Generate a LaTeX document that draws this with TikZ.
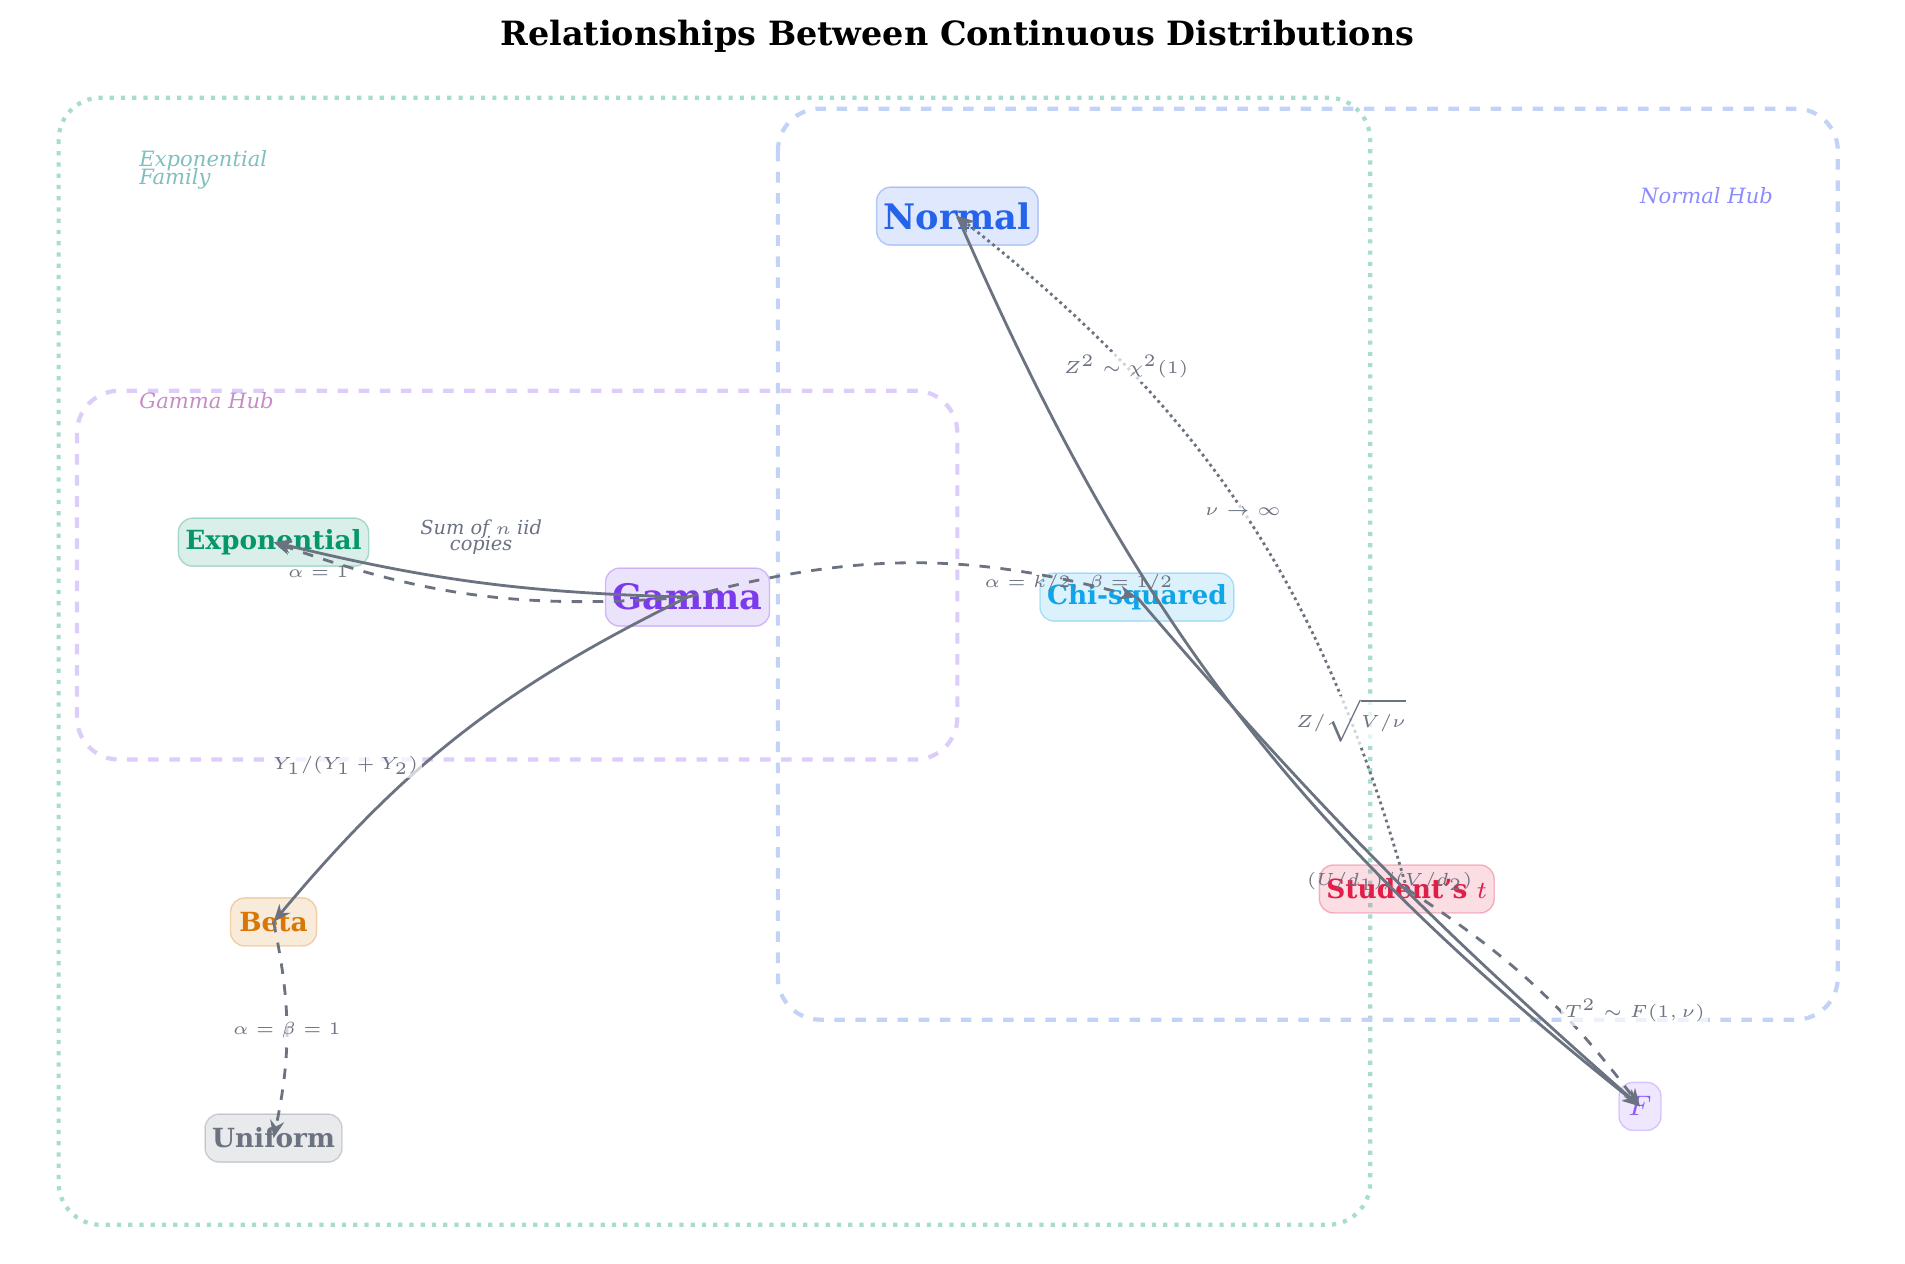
\documentclass[tikz,border=0pt]{standalone}
\usepackage{fontspec}
\setmainfont{DejaVu Serif}
\usetikzlibrary{arrows.meta}
\definecolor{edgec}{HTML}{6B7280}
\definecolor{normc}{HTML}{2563EB}
\definecolor{chic}{HTML}{0EA5E9}
\definecolor{tc}{HTML}{E11D48}
\definecolor{fc}{HTML}{8B5CF6}
\definecolor{gamc}{HTML}{7C3AED}
\definecolor{expc}{HTML}{059669}
\definecolor{betac}{HTML}{D97706}
\definecolor{unic}{HTML}{6B7280}
\definecolor{famc}{HTML}{A7DCCF}
\definecolor{nhubc}{HTML}{C3D3F8}
\definecolor{ghubc}{HTML}{DCCDFB}
\begin{document}
\begin{tikzpicture}[
    x=0.01221cm, y=-0.01221cm,
    dist/.style={rectangle, rounded corners=4pt, minimum height=0.48cm, inner sep=2pt, font=\bfseries\fontsize{7.5}{8}\selectfont, draw opacity=0.3, fill opacity=0.15, text opacity=1},
    hub/.style={rounded corners=12pt, very thick, dashed},
    rel/.style={-{Stealth[length=5pt,width=4pt]}, edgec, thick},
    lbl/.style={font=\fontsize{5.5}{6}\selectfont, text=edgec, fill=white, fill opacity=0.7, text opacity=1, inner sep=1pt},
    grp/.style={font=\itshape\fontsize{6}{7}\selectfont, align=left}
]
\useasboundingbox (0,0) rectangle (1560,1035);

% Title
\node[font=\bfseries\fontsize{9.5}{11}\selectfont] (title) at (784,30) {Relationships Between Continuous Distributions};

% Groups
\draw[famc, dotted, very thick, rounded corners=12pt] (48,80) rectangle (1122,1003);
\node[grp, text=teal!50, anchor=north west] (expfam) at (104,113) {Exponential\\[-2pt]Family};
\draw[hub, nhubc] (637,89) rectangle (1505,835);
\node[grp, text=blue!45, anchor=east] (normhub) at (1462,160) {Normal Hub};
\draw[hub, ghubc] (63,320) rectangle (784,622);
\node[grp, text=violet!45, anchor=west] (gamhub) at (104,328) {Gamma Hub};

% Distributions
\node[dist, draw=normc, fill=normc, text=normc, minimum width=1.45cm, minimum height=0.58cm, font=\bfseries\fontsize{10}{11}\selectfont] (normal) at (784,177) {Normal};
\node[dist, draw=chic, fill=chic, text=chic, minimum width=1.83cm] (chi) at (931,489) {Chi-squared};
\node[dist, draw=tc, fill=tc, text=tc, minimum width=1.68cm] (student) at (1152,728) {Student's $t$};
\node[dist, draw=fc, fill=fc, text=fc, minimum width=0.42cm, font=\fontsize{8}{9}\selectfont] (f) at (1343,906) {$F$};
\node[dist, draw=gamc, fill=gamc, text=gamc, minimum width=1.49cm, minimum height=0.58cm, font=\bfseries\fontsize{10}{11}\selectfont] (gamma) at (563,489) {Gamma};
\node[dist, draw=expc, fill=expc, text=expc, minimum width=1.8cm] (exp) at (224,444) {Exponential};
\node[dist, draw=betac, fill=betac, text=betac, minimum width=0.86cm] (beta) at (224,755) {Beta};
\node[dist, draw=unic, fill=unic, text=unic, minimum width=1.34cm] (unif) at (224,932) {Uniform};

% Gamma family relations
\draw[rel] (gamma.center) to[bend left=6] (exp.center);
\draw[rel, dashed] (gamma.center) to[bend left=12] node[lbl, pos=0.9, below=1pt, fill=none] {$\alpha=1$} (exp.center);
\node[font=\itshape\fontsize{5.5}{6.5}\selectfont, text=edgec, align=center] (sumlbl) at (394,440) {Sum of $n$ iid\\[-2pt]copies};
\draw[rel, dashed] (gamma.center) to[bend left=15] node[lbl, pos=0.88, fill=none] {$\alpha=k/2,\ \beta=1/2$} (chi.center);
\draw[rel] (gamma.center) to[bend right=12] node[lbl, pos=0.6, left] {$Y_1/(Y_1+Y_2)$} (beta.center);
\draw[rel, dashed] (beta.center) to[bend left=12] node[lbl] {$\alpha=\beta=1$} (unif.center);

% Normal family relations
\draw[rel] (normal.center) to[bend right=14] (f.center);
\draw[rel] (chi.center) to[bend right=4] (f.center);
\draw[rel, densely dotted] (student.center) to[bend right=18]
    node[lbl, pos=0.2] {$Z/\sqrt{V/\nu}$}
    node[lbl, pos=0.5] {$\nu\to\infty$}
    node[lbl, pos=0.74] {$Z^2\sim\chi^2(1)$} (normal.center);
\draw[rel, dashed] (student.center) to[bend left=10] node[lbl, pos=0.62, right] {$T^2\sim F(1,\nu)$} (f.center);
\node[lbl, fill=none] (ulbl) at (1138,722) {$(U/d_1)/(V/d_2)$};
\end{tikzpicture}
\end{document}
